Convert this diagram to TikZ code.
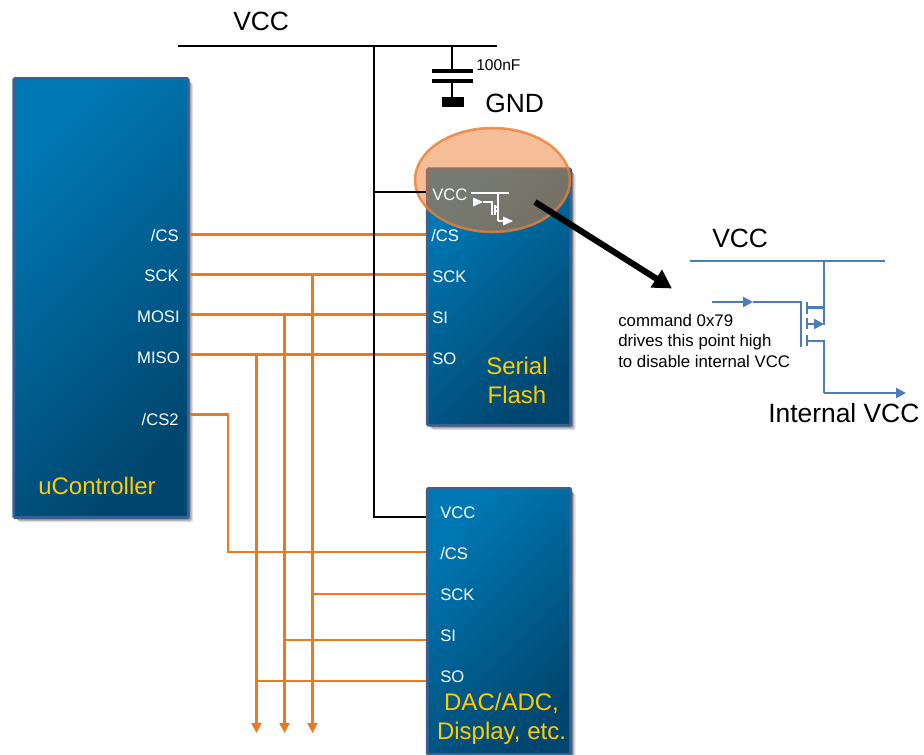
\documentclass[tikz,border=0pt]{standalone}
\usepackage{fontspec}
\setmainfont{Liberation Sans}
\usetikzlibrary{arrows.meta,shadows,shapes.geometric}
\definecolor{wireorange}{HTML}{E97A24}
\definecolor{spotorange}{HTML}{ED7D31}
\definecolor{fetblue}{HTML}{4A7EBB}
\definecolor{chipedge}{HTML}{3A5F92}
\definecolor{chiplight}{HTML}{0078B4}
\definecolor{chipdark}{HTML}{00466E}
\definecolor{chiptitle}{HTML}{FFCC00}
\tikzset{
  chip/.style={draw=chipedge,line width=2.2pt,rounded corners=1pt,top color=chiplight,bottom color=chipdark,shading angle=45,
    drop shadow={shadow xshift=3.6pt,shadow yshift=-3.6pt,opacity=.12,fill=black},
    drop shadow={shadow xshift=2.6pt,shadow yshift=-2.6pt,opacity=.2,fill=black},
    drop shadow={shadow xshift=1.6pt,shadow yshift=-1.6pt,opacity=.25,fill=black},
    inner sep=0pt,minimum width=#1},
  pin/.style={text=white,font=\fontsize{12.5}{14}\selectfont,inner sep=0pt},
  title/.style={text=chiptitle,font=\fontsize{18}{22}\selectfont,align=center,inner sep=0pt},
  bigtext/.style={text=black,font=\fontsize{19.8}{22}\selectfont,inner sep=0pt},
  smalltext/.style={text=black,font=\fontsize{12.6}{15.4}\selectfont,inner sep=0pt},
  wire/.style={draw=wireorange,line width=1.8pt},
  bus/.style={draw=wireorange,line width=1.8pt,-{Triangle[length=7.5pt,width=7.5pt]}},
  power/.style={draw=black,line width=1.9pt},
  fet/.style={draw=fetblue,line width=1.9pt},
  fetarrow/.style={draw=fetblue,line width=1.9pt,-{Triangle[length=7.5pt,width=7.5pt]}},
  mini/.style={draw=white,line width=.8pt},
  miniarrow/.style={draw=white,line width=.8pt,-{Triangle[length=7.5pt,width=6.5pt]}}
}
\begin{document}
\begin{tikzpicture}[x=0.75pt,y=-0.75pt]
\useasboundingbox (0,0) rectangle (924,754);
% chips
\node[chip=174.5*0.75pt,minimum height=439*0.75pt] (uc) at (101,298) {};
\node[chip=143.5*0.75pt,minimum height=256.5*0.75pt] (flash) at (499,297) {};
\node[chip=143.5*0.75pt,minimum height=266*0.75pt,anchor=north] (dac) at (499,487) {};
% highlight
\node[draw=spotorange,line width=1.9pt,fill=spotorange,fill opacity=.5,draw opacity=.8,ellipse,minimum width=155*0.75pt,minimum height=104*0.75pt,inner sep=0pt] (spot) at (492.5,180) {};
% controller pins
\node[pin,anchor=east] (ucCS) at (179,235.7) {/CS};
\node[pin,anchor=east] (ucSCK) at (179,275.7) {SCK};
\node[pin,anchor=east] (ucMOSI) at (180,316.7) {MOSI};
\node[pin,anchor=east] (ucMISO) at (180,357.7) {MISO};
\node[pin,anchor=east] (ucCStwo) at (179,419.7) {/CS2};
\node[title] (uctitle) at (97,486) {uController};
% flash pins
\node[pin,anchor=west] (flVCC) at (432,194.7) {VCC};
\node[pin,anchor=west] (flCS) at (431,235.7) {/CS};
\node[pin,anchor=west] (flSCK) at (432,276.7) {SCK};
\node[pin,anchor=west] (flSI) at (432,317.7) {SI};
\node[pin,anchor=west] (flSO) at (432,358.7) {SO};
\node[title] (fltitle) at (517,380.5) {Serial\\Flash};
% dac pins
\node[pin,anchor=west] (daVCC) at (440,512.7) {VCC};
\node[pin,anchor=west] (daCS) at (440,553.7) {/CS};
\node[pin,anchor=west] (daSCK) at (440,594.7) {SCK};
\node[pin,anchor=west] (daSI) at (440,635.7) {SI};
\node[pin,anchor=west] (daSO) at (440,676.7) {SO};
\node[title] (datitle) at (501.5,719) {DAC/ADC,\\Display, etc.};
% spi lines
\coordinate (sckend) at (312.5,733);
\coordinate (siend) at (284.5,733);
\coordinate (soend) at (256.5,733);
\draw[wire] (uc.east |- 0,234.5) -- (flash.west |- 0,234.5);
\draw[wire] (uc.east |- 0,274.5) -- (flash.west |- 0,274.5);
\draw[wire] (uc.east |- 0,314.5) -- (flash.west |- 0,314.5);
\draw[wire] (uc.east |- 0,354.5) -- (flash.west |- 0,354.5);
\draw[wire] (uc.east |- 0,414.5) -- (228,414.5) -- (228,552) -- (dac.west |- 0,552);
\draw[bus] (312.5,274.5) -- (sckend);
\draw[bus] (284.5,314.5) -- (siend);
\draw[bus] (256.5,354.5) -- (soend);
\draw[wire] (312.5,594) -- (dac.west |- 0,594);
\draw[wire] (284.5,640) -- (dac.west |- 0,640);
\draw[wire] (256.5,681) -- (dac.west |- 0,681);
% supply
\coordinate (railL) at (178,46);
\coordinate (railR) at (497,46);
\coordinate (railT) at (374,46);
\coordinate (capT) at (452,46);
\draw[power] (railL) -- (railR);
\draw[power] (railT) -- (374,517) -- (dac.west |- 0,517);
\draw[power] (374,192) -- (flash.west |- 0,192);
\draw[power] (capT) -- (452,71);
\draw[power,line width=3pt] (432,71) -- (473,71);
\draw[power,line width=3pt] (432,81) -- (473,81);
\draw[power] (452,81) -- (452,99);
\fill[black] (442,97) rectangle (464,107);
\node[bigtext,anchor=west] (vcctop) at (233,21) {VCC};
\node[anchor=west,text=black,font=\fontsize{11.7}{13}\selectfont,inner sep=0pt] (capval) at (476,65) {100nF};
\node[bigtext,anchor=west] (gnd) at (485,103) {GND};
% small fet inside flash
\coordinate (mrailL) at (471,193);
\coordinate (mrailR) at (509,193);
\draw[mini] (mrailL) -- (mrailR);
\draw[mini] (498,193) -- (498,221);
\draw[miniarrow] (473,202) -- (483,202);
\draw[mini] (483,202) -- (492,202) -- (492,215);
\draw[mini] (495,205) -- (495,215);
\draw[mini] (495,207) -- (498,207);
\draw[mini] (495,211) -- (498,211);
\draw[miniarrow] (498,221) -- (513,221);
% pointer
\coordinate (zoomfrom) at (535,202);
\coordinate (zoomto) at (672,288.5);
\draw[black,line width=4.6pt,-{Triangle[length=14pt,width=15pt]}] (zoomfrom) -- (zoomto);
% enlarged fet
\coordinate (fetrailL) at (690,261);
\coordinate (fetrailR) at (885,261);
\coordinate (fetin) at (712,302);
\coordinate (fetout) at (906,393);
\node[bigtext,anchor=west] (vccfet) at (712,238) {VCC};
\draw[fet] (fetrailL) -- (fetrailR);
\draw[fetarrow] (fetin) -- (753,302);
\draw[fet] (753,302) -- (801,302) -- (801,347);
\draw[fet] (807,302) -- (807,314);
\draw[fet] (807,318) -- (807,329);
\draw[fet] (807,335) -- (807,346);
\draw[fet] (807,307.5) -- (824,307.5);
\draw[fetarrow] (807,324) -- (824,324);
\draw[fet] (807,341) -- (824,341) -- (824,393);
\draw[fet] (824,261) -- (824,325);
\draw[fetarrow] (824,393) -- (fetout);
\node[bigtext,anchor=west] (fetlabel) at (768,413) {Internal VCC};
\node[smalltext,anchor=north west,align=left] (fetnote) at (618,314) {command 0x79\\drives this point high\\to disable internal VCC};
\end{tikzpicture}
\end{document}
